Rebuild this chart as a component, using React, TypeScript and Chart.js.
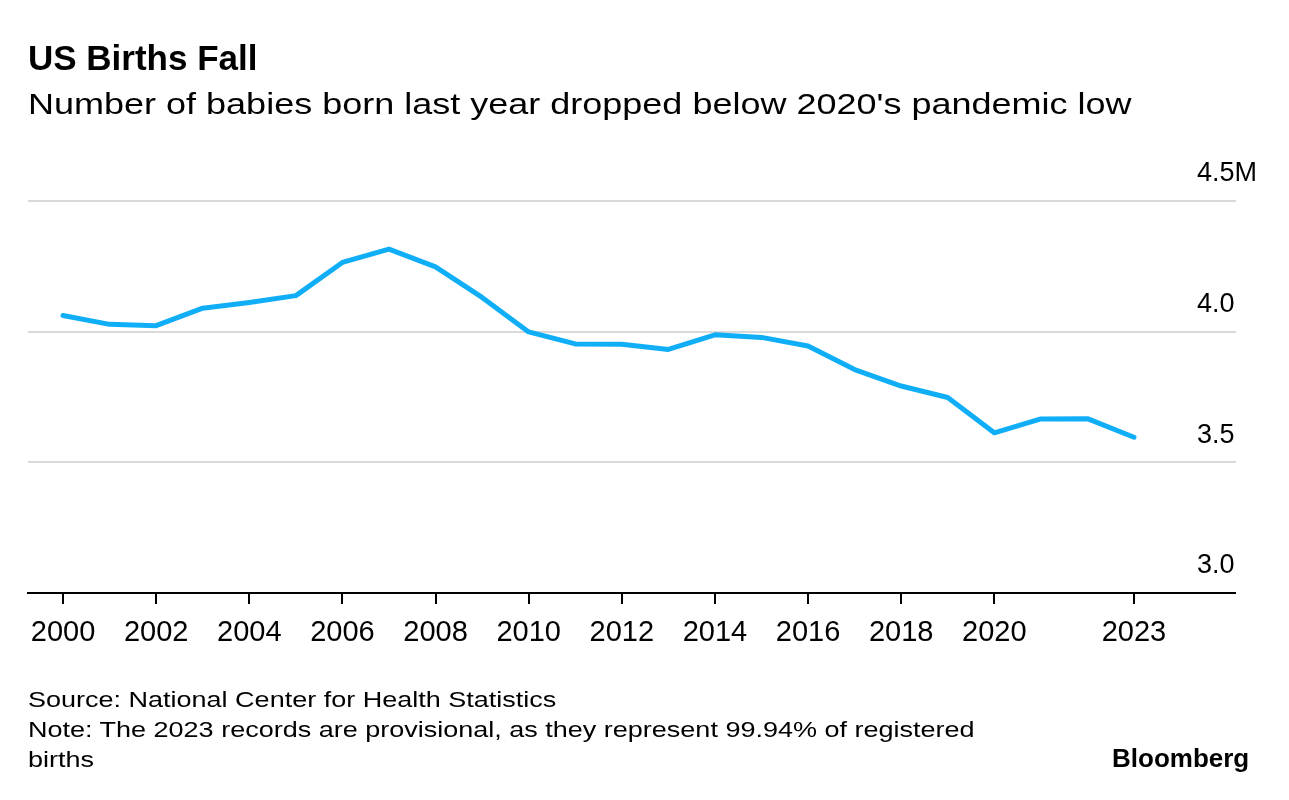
import React, { useEffect, useRef } from 'react';
import { Chart, registerables } from 'chart.js';

Chart.register(...registerables);

// ---- Data ----
const years = [2000, 2001, 2002, 2003, 2004, 2005, 2006, 2007, 2008, 2009, 2010, 2011, 2012, 2013, 2014, 2015, 2016, 2017, 2018, 2019, 2020, 2021, 2022, 2023];
const birthsMillions = [4.062, 4.028, 4.023, 4.09, 4.112, 4.138, 4.265, 4.316, 4.248, 4.131, 3.999, 3.953, 3.952, 3.932, 3.988, 3.978, 3.945, 3.855, 3.792, 3.748, 3.613, 3.666, 3.667, 3.596];
const xTickYears = [2000, 2002, 2004, 2006, 2008, 2010, 2012, 2014, 2016, 2018, 2020, 2023];
const yTickValues = [3.0, 3.5, 4.0, 4.5];
const yTickLabels = ['3.0', '3.5', '4.0', '4.5M'];

const titleText = 'US Births Fall';
const subtitleText = "Number of babies born last year dropped below 2020's pandemic low";
const sourceText = 'Source: National Center for Health Statistics';
const noteLine1 = 'Note: The 2023 records are provisional, as they represent 99.94% of registered';
const noteLine2 = 'births';
const brandText = 'Bloomberg';

const FONT = "'Liberation Sans', Arial, Helvetica, sans-serif";

export default function App() {
  const canvasRef = useRef<HTMLCanvasElement | null>(null);

  useEffect(() => {
    const canvas = canvasRef.current;
    if (!canvas) return;
    const chart = new Chart(canvas, {
      type: 'line',
      data: {
        datasets: [
          {
            data: years.map((yr, i) => ({ x: yr, y: birthsMillions[i] })),
            borderColor: '#10aef7',
            borderWidth: 5,
            pointRadius: 0,
            tension: 0,
            borderJoinStyle: 'round',
            borderCapStyle: 'round',
            fill: false,
          },
        ],
      },
      options: {
        responsive: false,
        animation: false,
        devicePixelRatio: 1,
        layout: { padding: { top: 201, left: 28, right: 23, bottom: 147 } },
        plugins: {
          legend: { display: false },
          tooltip: { enabled: false },
          title: { display: false },
        },
        scales: {
          x: {
            type: 'linear',
            position: 'bottom',
            min: 1999.248,
            max: 2024.203,
            afterBuildTicks: (scale: any) => {
              scale.ticks = xTickYears.map((v) => ({ value: v }));
            },
            afterFit: (scale: any) => {
              scale.height = 60;
            },
            grid: {
              display: true,
              drawOnChartArea: false,
              drawTicks: true,
              tickLength: 11,
              color: '#000',
              lineWidth: 2,
            },
            border: { display: true, color: '#000', width: 2 },
            ticks: {
              autoSkip: false,
              maxRotation: 0,
              padding: 12,
              color: '#000',
              font: { family: FONT, size: 29 },
              callback: (v: any) => String(v),
            },
          },
          y: {
            type: 'linear',
            position: 'right',
            min: 3,
            max: 4.5,
            afterBuildTicks: (scale: any) => {
              scale.ticks = yTickValues.map((v) => ({ value: v }));
            },
            afterFit: (scale: any) => {
              scale.width = 76;
            },
            grid: {
              display: true,
              drawOnChartArea: true,
              drawTicks: true,
              tickLength: 46,
              lineWidth: 2,
              color: (ctx: any) => (ctx.tick && Math.abs(ctx.tick.value - 3) < 1e-6 ? '#000' : '#d9d9d9'),
            },
            border: { display: false },
            ticks: {
              padding: -39,
              labelOffset: -27,
              color: '#000',
              font: { family: FONT, size: 27 },
              callback: (v: any) => {
                const idx = yTickValues.findIndex((t) => Math.abs(t - Number(v)) < 1e-6);
                return idx >= 0 ? yTickLabels[idx] : Number(v).toFixed(1);
              },
            },
          },
        },
      } as any,
    });
    return () => chart.destroy();
  }, []);

  const base: React.CSSProperties = {
    position: 'absolute',
    whiteSpace: 'nowrap',
    color: '#000',
    fontFamily: FONT,
    margin: 0,
  };

  return (
    <div style={{ position: 'absolute', left: 0, top: 0, width: 1289, height: 800, background: '#fff', overflow: 'hidden' }}>
      <canvas ref={canvasRef} width={1289} height={800} style={{ position: 'absolute', left: 0, top: 0, width: 1289, height: 800 }} />
      <div style={{ ...base, left: 28, top: 40, fontSize: 35, lineHeight: '35px', fontWeight: 700 }}>{titleText}</div>
      <div style={{ ...base, left: 28, top: 89, fontSize: 30, lineHeight: '30px', transform: 'scaleX(1.2)', transformOrigin: 'left top' }}>{subtitleText}</div>
      <div style={{ ...base, left: 28, top: 685, fontSize: 22.5, lineHeight: '30px', transform: 'scaleX(1.2)', transformOrigin: 'left top' }}>
        {sourceText}
        <br />
        {noteLine1}
        <br />
        {noteLine2}
      </div>
      <div style={{ ...base, left: 1112, top: 745, fontSize: 26, lineHeight: '26px', fontWeight: 700 }}>{brandText}</div>
    </div>
  );
}
